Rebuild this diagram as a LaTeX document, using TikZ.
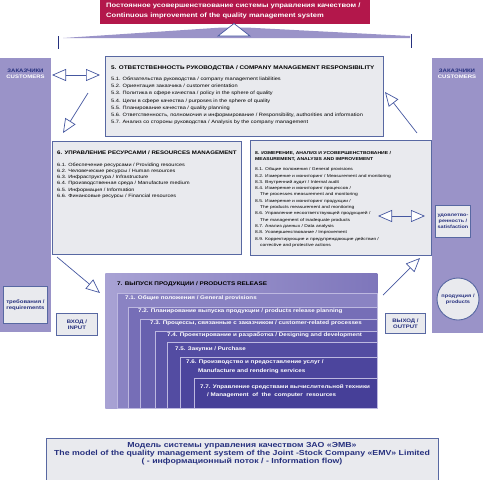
\documentclass[tikz,border=0pt]{standalone}
\usepackage{fontspec}
\setmainfont[FakeStretch=1.2]{Liberation Sans}
\usetikzlibrary{arrows.meta}
\definecolor{lav}{HTML}{9A93C8}
\definecolor{crim}{HTML}{B3174B}
\definecolor{bfill}{HTML}{E9EAEE}
\definecolor{bline}{HTML}{5868A2}
\definecolor{navy}{HTML}{26307E}
\definecolor{arr}{HTML}{4557A0}
\definecolor{pA}{HTML}{A8A2D4}
\definecolor{pB}{HTML}{7E76BB}
\definecolor{p1}{HTML}{8A83C3}
\definecolor{p2}{HTML}{766EB7}
\definecolor{p3}{HTML}{6861AF}
\definecolor{p4}{HTML}{5C55A8}
\definecolor{p5}{HTML}{534CA2}
\definecolor{p6}{HTML}{4C459D}
\definecolor{p7}{HTML}{463F98}
\definecolor{pedge}{HTML}{BDB8E0}
\tikzset{
  panel/.style={draw=bline, line width=0.9pt, fill=bfill, anchor=north west, inner sep=0},
  colm/.style={fill=lav, draw=none, anchor=north west, inner sep=0},
  lbl/.style={font=\fontsize{5.0}{6.3}\selectfont\bfseries, text=navy, align=center, inner sep=0},
  ttl/.style={anchor=west, inner sep=0, align=left, font=\fontsize{5.3}{6.4}\selectfont\bfseries},
  items/.style={anchor=north west, inner sep=0, align=left, font=\fontsize{4.6}{6.3}\selectfont},
  nest/.style={draw=pedge, line width=0.5pt, anchor=north west, inner sep=0},
  ntxt/.style={anchor=west, inner sep=0, align=left, text=white, font=\fontsize{5.2}{8.6}\selectfont\bfseries},
  flow/.style={draw=arr, line width=0.7pt, -{Triangle[length=14pt,width=12pt,fill=white,line width=0.7pt]}},
  biflow/.style={draw=arr, line width=0.7pt, {Triangle[length=14pt,width=12pt,fill=white,line width=0.7pt]}-{Triangle[length=14pt,width=12pt,fill=white,line width=0.7pt]}},
}
\begin{document}
\begin{tikzpicture}[x=1pt,y=-1pt]
\useasboundingbox (0,0) rectangle (483,480);
% top improvement banner
\node[fill=crim, anchor=north west, inner sep=0, minimum width=270, minimum height=24] (top) at (100,0) {};
\node[anchor=north west, inner sep=0, align=left, text=white, font=\fontsize{6.3}{9.8}\selectfont\bfseries] (toptxt) at (106,3)
  {Постоянное усовершенствование системы управления качеством  /\\Continuous improvement of the quality management system};
\fill[lav] (63,38) -- (222,27.5) -- (246,27.5) -- (410,36) -- (410,38) -- cycle;
\draw[draw=arr, fill=white, line width=0.7pt] (218,36) -- (234,23.5) -- (250,36) -- cycle;
\draw[navy, line width=0.9pt] (58,36) -- (58,49);
\draw[navy, line width=0.9pt] (411,34) -- (411,48);
% customer columns
\node[colm, minimum width=51, minimum height=274] (lcol) at (0,58) {};
\node[colm, minimum width=51, minimum height=275] (rcol) at (432,58) {};
\node[lbl] (lcust) at (25.5,73.5) {ЗАКАЗЧИКИ\\\textcolor{white}{CUSTOMERS}};
\node[lbl] (rcust) at (457,73.5) {ЗАКАЗЧИКИ\\\textcolor{white}{CUSTOMERS}};
% box 5
\node[panel, minimum width=278, minimum height=80] (b5) at (105,56) {};
\node[ttl] (b5t) at (111,68) {5. ОТВЕТСТВЕННОСТЬ РУКОВОДСТВА / COMPANY MANAGEMENT RESPONSIBILITY};
\node[items, font=\fontsize{4.7}{7.3}\selectfont] (b5i) at (111,76.5) {5.1. Обязательства руководства / company management liabilities\\
5.2. Ориентация заказчика / customer orientation\\
5.3. Политика в сфере качества / policy in the sphere of quality\\
5.4. Цели в сфере качества / purposes in the sphere of quality\\
5.5. Планирование качества / quality planning\\
5.6. Ответственность, полномочия и информирование / Responsibility, authorities and information\\
5.7. Анализ со стороны руководства / Analysis by the company management};
% box 6
\node[panel, minimum width=189, minimum height=113] (b6) at (52,141) {};
\node[ttl, font=\fontsize{5.1}{6.4}\selectfont\bfseries] (b6t) at (57,153) {6. УПРАВЛЕНИЕ РЕСУРСАМИ / RESOURCES MANAGEMENT};
\node[items] (b6i) at (57,162.5) {6.1. Обеспечение ресурсами / Providing resources\\
6.2. Человеческие ресурсы / Human resources\\
6.3. Инфраструктура / Infrastructure\\
6.4. Производственная среда / Manufacture medium\\
6.5. Информация / Information\\
6.6. Финансовые ресурсы / Financial resources};
% box 8
\node[panel, minimum width=181, minimum height=115] (b8) at (250,140) {};
\node[ttl, font=\fontsize{4.2}{6.2}\selectfont\bfseries] (b8t) at (255,156) {8. ИЗМЕРЕНИЕ, АНАЛИЗ И УСОВЕРШЕНСТВОВАНИЕ /\\MEASUREMENT, ANALYSIS AND IMPROVEMENT};
\node[items, font=\fontsize{4.1}{6.3}\selectfont] (b8i) at (255,167.5) {8.1. Общие положения / General provisions\\
8.2. Измерение и мониторинг / Measurement and monitoring\\
8.3. Внутренний аудит / Internal audit\\
8.4. Измерение и мониторинг процессов /\\
\hspace*{5pt}The processes measurement and monitoring\\
8.5. Измерение и мониторинг продукции /\\
\hspace*{5pt}The products measurement and monitoring\\
8.6. Управление несоответствующей продукцией /\\
\hspace*{5pt}The management of inadequate products\\
8.7. Анализ данных / Data analysis\\
8.8. Усовершенствование / Improvement\\
8.9. Корректирующие и предупреждающие действия /\\
\hspace*{5pt}corrective and protective actions};
% satisfaction
\node[panel, minimum width=35, minimum height=32] (sat) at (435,205) {};
\node[lbl, font=\fontsize{4.6}{6}\selectfont\bfseries] (sattxt) at (sat.center) {удовлетво-\\ренность /\\satisfaction};
% requirements, input, output, products
\node[panel, minimum width=44, minimum height=37] (req) at (3,286) {};
\node[lbl] (reqtxt) at (req.center) {требования /\\requirements};
\node[panel, minimum width=41, minimum height=22] (inp) at (56,313) {};
\node[lbl] (inptxt) at (inp.center) {ВХОД /\\INPUT};
\node[panel, minimum width=40, minimum height=20] (outp) at (385,313) {};
\node[lbl] (outtxt) at (outp.center) {ВЫХОД /\\OUTPUT};
\node[circle, draw=bline, line width=0.9pt, fill=bfill, minimum size=42, inner sep=0] (prod) at (458,299) {};
\node[lbl, font=\fontsize{4.7}{6}\selectfont\bfseries] (prodtxt) at (prod.center) {продукция /\\products};
% box 7 nested
\node[nest, draw=none, left color=pA, right color=pB, minimum width=272, minimum height=135] (b7) at (105,273) {};
\node[ttl] (b7t) at (117,284) {7. ВЫПУСК ПРОДУКЦИИ / PRODUCTS RELEASE};
\node[nest, fill=p1, minimum width=260, minimum height=115] (n1) at (117,293) {};
\node[ntxt] (t1) at (125,298.5) {7.1. Общие положения / General provisions};
\node[nest, fill=p2, minimum width=249, minimum height=101] (n2) at (128,307) {};
\node[ntxt] (t2) at (138,311.5) {7.2. Планирование выпуска продукции / products release planning};
\node[nest, fill=p3, minimum width=237, minimum height=89] (n3) at (140,319) {};
\node[ntxt] (t3) at (150,323.5) {7.3. Процессы, связанные с заказчиком / customer-related processes};
\node[nest, fill=p4, minimum width=222, minimum height=77] (n4) at (155,331) {};
\node[ntxt] (t4) at (167,335.5) {7.4. Проектирование и разработка / Designing and development};
\node[nest, fill=p5, minimum width=210, minimum height=66] (n5) at (167,342) {};
\node[ntxt] (t5) at (175,349) {7.5. Закупки / Purchase};
\node[nest, fill=p6, minimum width=197, minimum height=51] (n6) at (180,357) {};
\node[ntxt] (t6) at (186,366.5) {7.6. Производство и предоставление услуг /\\\hspace*{12pt}Manufacture and rendering services};
\node[nest, fill=p7, minimum width=183, minimum height=30] (n7) at (194,378) {};
\node[ntxt] (t7) at (200,391) {7.7. Управление средствами вычислительной техники\\\hspace*{7pt}/ Management\ \ of\ \ the\ \ computer\ \ resources};
% caption box
\node[panel, minimum width=392, minimum height=42] (cap) at (46,438) {};
\node[lbl, font=\fontsize{7.3}{7.8}\selectfont\bfseries] (captxt) at (242,454) {Модель системы управления качеством ЗАО «ЭМВ»\\The model of the quality management system of the Joint -Stock Company «EMV» Limited\\( - информационный поток / - Information flow)};
% connectors
\coordinate (a1s) at (52,75);
\coordinate (a1e) at (100,75);
\draw[biflow] (a1s) -- (a1e);
\coordinate (a2s) at (88,93);
\coordinate (a2e) at (63,133);
\draw[flow] (a2s) -- (a2e);
\coordinate (a3s) at (417,133);
\coordinate (a3e) at (385,92);
\draw[flow] (a3s) -- (a3e);
\coordinate (a4s) at (57,257);
\coordinate (a4e) at (100,293);
\draw[flow] (a4s) -- (a4e);
\coordinate (a5s) at (383,295);
\coordinate (a5e) at (420,258);
\draw[flow] (a5s) -- (a5e);
\coordinate (a6s) at (378,216);
\coordinate (a6e) at (425,216);
\draw[biflow] (a6s) -- (a6e);
\end{tikzpicture}
\end{document}
